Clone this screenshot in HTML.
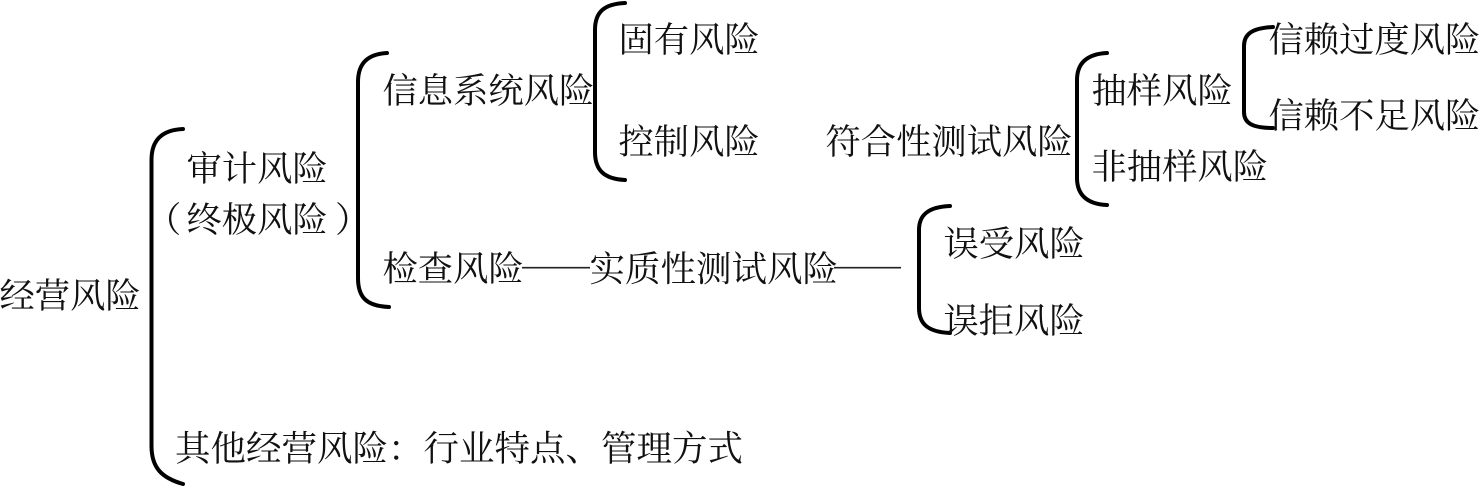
<!DOCTYPE html>
<html lang="zh">
<head>
<meta charset="utf-8">
<style>
html,body{margin:0;padding:0;background:#fff;}
body{width:1479px;height:488px;overflow:hidden;}
svg{display:block;}
text{font-family:"Liberation Serif","Noto Serif CJK SC",serif;font-size:35.3px;fill:#111;}
path{fill:none;stroke:#000;stroke-width:4;stroke-linecap:round;}
line{fill:none;stroke:#222;stroke-width:1.6;}
</style>
</head>
<body>
<svg width="1479" height="488" viewBox="0 0 1479 488" xmlns="http://www.w3.org/2000/svg">
<path d="M183 129 C162 130 151.500 140 151.500 160 L151.500 446 C151.500 468 162 478 183 484"/>
<path d="M387 53 C367 54 358 64 358 82 L358 278 C358 298 367 306 389 307"/>
<path d="M625 3 C604 4 595 12 595 30 L595 152 C595 170 604 179 625 180"/>
<path d="M1107 53 C1086 54 1077 64 1077 80 L1077 178 C1077 194 1086 204 1107 205"/>
<path d="M1273 27 C1252 28 1244 34 1244 46 L1244 112 C1244 123 1252 128 1273 128"/>
<path d="M950 206 C928 207 919 215 919 230 L919 308 C919 324 928 332 950 333"/>
<line x1="522" y1="267.7" x2="590" y2="267.7"/>
<line x1="834" y1="267.7" x2="901" y2="267.7"/>
<text x="-0.5" y="308">经营风险</text>
<text x="186.500" y="181">审计风险</text>
<text x="146" y="232">（</text>
<text x="186.500" y="232">终极风险</text>
<text x="335" y="232">）</text>
<text x="175" y="460.500" style="font-size:35.5px">其他经营风险：行业特点、管理方式</text>
<text x="382.500" y="103">信息系统风险</text>
<text x="382.500" y="281">检查风险</text>
<text x="589.500" y="281" style="font-size:35.5px">实质性测试风险</text>
<text x="618.500" y="52">固有风险</text>
<text x="618.500" y="154">控制风险</text>
<text x="825.500" y="154">符合性测试风险</text>
<text x="1091.500" y="103">抽样风险</text>
<text x="1091.500" y="179">非抽样风险</text>
<text x="1268.500" y="52">信赖过度风险</text>
<text x="1268.500" y="128">信赖不足风险</text>
<text x="943.500" y="256">误受风险</text>
<text x="943.500" y="333">误拒风险</text>
</svg>
</body>
</html>
